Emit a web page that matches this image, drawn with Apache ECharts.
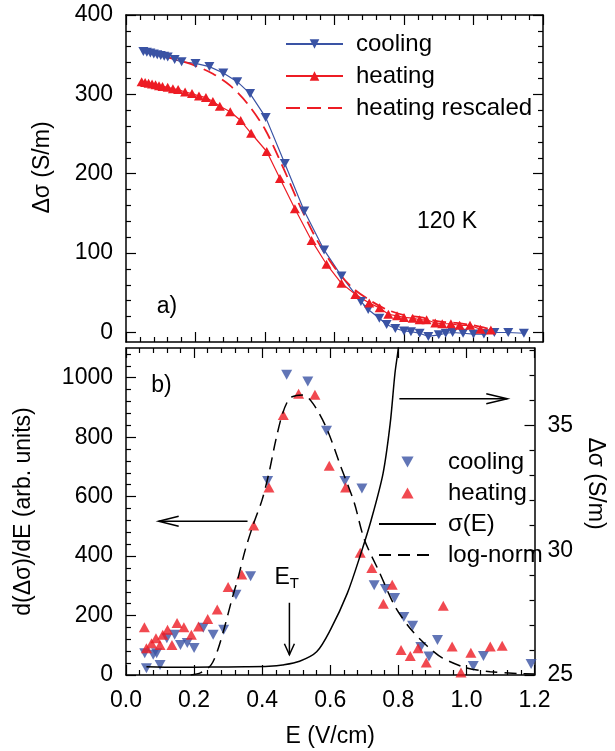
<!DOCTYPE html>
<html>
<head>
<meta charset="utf-8">
<script src="https://cdn.jsdelivr.net/npm/echarts@6/dist/echarts.min.js"></script>
<style>
  html, body { margin: 0; padding: 0; background: #fff; }
  #chart { width: 615px; height: 751px; }
</style>
</head>
<body>
<div id="chart"></div>
<script>
// panel a) : delta sigma vs E
const coolX = [0.05, 0.06, 0.07, 0.08, 0.09, 0.10, 0.11, 0.12, 0.14, 0.16, 0.20, 0.24, 0.28, 0.32, 0.357, 0.402, 0.457, 0.513, 0.57, 0.62, 0.676, 0.697, 0.729, 0.75, 0.775, 0.80, 0.82, 0.845, 0.87, 0.90, 0.92, 0.94, 0.97, 1.00, 1.03, 1.06, 1.10, 1.145]
const coolY = [354, 353, 352, 351, 350, 349, 348, 347, 344, 341, 339, 335, 327, 316, 301, 271, 213, 153, 104, 71, 39, 29, 18, 10, 5, 2, 1, -1, -5, -3, -1, 0, -1, -2, -2, 0, 0, -1]
const heatX = [0.045, 0.055, 0.065, 0.075, 0.085, 0.095, 0.105, 0.12, 0.135, 0.15, 0.17, 0.19, 0.21, 0.23, 0.25, 0.27, 0.30, 0.33, 0.36, 0.405, 0.443, 0.486, 0.534, 0.577, 0.62, 0.66, 0.70, 0.73, 0.755, 0.78, 0.80, 0.825, 0.845, 0.865, 0.89, 0.91, 0.935, 0.96, 0.99, 1.02, 1.05]
const heatY = [316, 315, 314, 313, 312, 311, 310, 309, 307, 306, 303, 301, 298, 296, 291, 285, 278, 267, 251, 228, 194, 156, 116, 86, 62, 48, 37, 31, 23, 21, 19, 18, 16, 16, 12, 11, 11, 9, 9, 4, 3]
const rescX = [0.05, 0.10, 0.15, 0.20, 0.25, 0.30, 0.35, 0.40, 0.45, 0.50, 0.55, 0.60, 0.65, 0.70, 0.75, 0.80, 0.85, 0.90, 0.95, 1.00, 1.05]
const rescY = [354, 349, 343, 336, 326, 311, 288, 256, 210, 160, 116, 82, 57, 41, 29, 22, 19, 14, 12, 9, 4]

// panel b) : derivative, sigma(E), log-normal fit
const bCoolX = [0.055, 0.06, 0.08, 0.09, 0.10, 0.12, 0.143, 0.16, 0.18, 0.20, 0.227, 0.256, 0.287, 0.323, 0.366, 0.416, 0.472, 0.534, 0.589, 0.643, 0.693, 0.729, 0.762, 0.789, 0.816, 0.842, 0.866, 0.89, 0.915, 1.02, 1.05, 1.19]
const bCoolY = [73, 23, 68, 73, 34, 124, 135, 101, 108, 91, 159, 135, 152, 270, 332, 653, 1010, 987, 822, 653, 627, 302, 289, 259, 195, 166, 94, 62, 118, 30, 64, 37]
const bHeatX = [0.054, 0.06, 0.075, 0.088, 0.10, 0.108, 0.122, 0.135, 0.15, 0.17, 0.192, 0.213, 0.24, 0.268, 0.30, 0.34, 0.375, 0.42, 0.462, 0.507, 0.555, 0.597, 0.645, 0.688, 0.722, 0.756, 0.782, 0.808, 0.835, 0.858, 0.882, 0.932, 0.958, 0.984, 1.013, 1.07, 1.105]
const bHeatY = [161, 90, 107, 124, 101, 135, 152, 101, 175, 161, 135, 163, 188, 220, 296, 338, 503, 631, 875, 946, 943, 704, 631, 411, 360, 240, 304, 84, 64, 90, 42, 233, 96, 8, 75, 96, 98]
const lnX = [0.19, 0.22, 0.25, 0.27, 0.29, 0.31, 0.33, 0.35, 0.375, 0.40, 0.42, 0.44, 0.46, 0.48, 0.50, 0.52, 0.55, 0.59, 0.63, 0.67, 0.70, 0.745, 0.79, 0.838, 0.886, 0.93, 1.00, 1.07, 1.15, 1.20]
const lnY = [0, 8, 34, 86, 163, 250, 330, 420, 510, 590, 680, 790, 880, 930, 940, 942, 912, 828, 704, 581, 456, 344, 231, 152, 96, 57, 24, 11, 5, 3]
const sigX = [0.06, 0.15, 0.25, 0.35, 0.42, 0.46, 0.51, 0.56, 0.60, 0.65, 0.69, 0.72, 0.755, 0.776, 0.79, 0.80, 0.81]
const sigY = [25.33, 25.31, 25.32, 25.33, 25.35, 25.4, 25.55, 25.93, 26.8, 28.27, 29.87, 31.2, 33.07, 35.07, 37.08, 38.1, 39.5]

// tick labels
const aTicks = [0, 100, 200, 300, 400]
const bTicks = [0, 200, 400, 600, 800, 1000]
const rTicks = [25, 30, 35]

const FONT = '"Liberation Sans", Arial, sans-serif'
const BLUE = '#3a53a4'
const RED = '#ed1c24'
const DOWN = 'path://M0,0 L10,0 L5,9 Z'
const UP = 'path://M5,0 L10,9 L0,9 Z'

const pts = (xs, ys) => xs.map((x, i) => [x, ys[i]])
// minor tick positions between majors
function minors (from, to, step, majors) {
  const out = []
  for (let v = from; v <= to + 1e-9; v += step) {
    const r = Math.round(v * 1000) / 1000
    if (!majors.includes(r)) out.push(r)
  }
  return out
}

const lineBlack = {color: '#000', width: 1.5}
const tickLine = {color: '#000', width: 1.2}

function xAx (grid, pos, labels, name) {
  return {
    type: 'value', gridIndex: grid, position: pos, min: 0, max: 1.2, interval: 0.2,
    name: name || '', nameLocation: 'middle', nameGap: 50,
    nameTextStyle: {fontSize: 23, color: '#000', fontFamily: FONT},
    axisLine: {show: true, onZero: false, lineStyle: lineBlack},
    axisTick: {show: true, inside: true, length: 10, lineStyle: tickLine},
    minorTick: {show: true, splitNumber: 5, length: 5, lineStyle: tickLine},
    splitLine: {show: false},
    axisLabel: {show: labels, margin: 14, fontSize: 23, color: '#000', fontFamily: FONT,
      formatter: v => v.toFixed(1)}
  }
}

function yMajor (grid, pos, min, max, ticks, labels, extra) {
  return Object.assign({
    type: 'value', gridIndex: grid, position: pos, min, max,
    axisLine: {show: true, onZero: false, lineStyle: lineBlack},
    axisTick: {show: true, inside: true, length: 10, customValues: ticks, lineStyle: tickLine},
    splitLine: {show: false},
    axisLabel: {show: labels, customValues: ticks, margin: 13, fontSize: 23, color: '#000', fontFamily: FONT,
      formatter: v => String(v)}
  }, extra || {})
}

function yMinor (grid, pos, min, max, ticks) {
  return {
    type: 'value', gridIndex: grid, position: pos, min, max,
    axisLine: {show: false, onZero: false},
    axisTick: {show: true, inside: true, length: 5, customValues: ticks, lineStyle: tickLine},
    splitLine: {show: false},
    axisLabel: {show: false}
  }
}

const aMinor = minors(0, 400, 20, aTicks)
const bMinor = minors(0, 1080, 40, bTicks)
const rMinor = minors(25, 38, 1, rTicks)
const nameStyle = {fontSize: 23, color: '#000', fontFamily: FONT}
const noDot = {opacity: 0}

const option = {
  backgroundColor: '#fff',
  animation: false,
  grid: [
    {left: 126, top: 15, width: 417, height: 327},
    {left: 126, top: 348, width: 417, height: 327}
  ],
  xAxis: [
    xAx(0, 'bottom', false),
    xAx(0, 'top', false),
    xAx(1, 'bottom', true, 'E (V/cm)'),
    xAx(1, 'top', false)
  ],
  yAxis: [
    yMajor(0, 'left', -12, 400, aTicks, true, {
      name: 'Δσ (S/m)', nameLocation: 'middle', nameGap: 72,
      nameTextStyle: Object.assign({padding: [0, 0, 0, 22]}, nameStyle)
    }),
    yMinor(0, 'left', -12, 400, aMinor),
    yMajor(0, 'right', -12, 400, aTicks, false),
    yMinor(0, 'right', -12, 400, aMinor),
    yMajor(1, 'left', 0, 1100, bTicks, true, {
      name: 'd(Δσ)/dE (arb. units)', nameLocation: 'middle', nameGap: 91,
      nameTextStyle: nameStyle
    }),
    yMinor(1, 'left', 0, 1100, bMinor),
    yMajor(1, 'right', 25, 38.1, rTicks, true, {
      name: 'Δσ (S/m)', nameLocation: 'middle', nameGap: 29, nameRotate: -90,
      nameTextStyle: Object.assign({padding: [0, 56, 0, 0]}, nameStyle)
    }),
    yMinor(1, 'right', 25, 38.1, rMinor)
  ],
  legend: [
    {
      data: ['cooling', 'heating', {name: 'heating rescaled', itemStyle: noDot}],
      orient: 'vertical', left: 285, top: 32, padding: 0, itemWidth: 57, itemHeight: 12, itemGap: 8,
      textStyle: {fontSize: 24, color: '#000', fontFamily: FONT, padding: [0, 0, 0, 8]}
    },
    {
      data: ['cooling (b)', 'heating (b)', {name: 'σ(E)', itemStyle: noDot}, {name: 'log-norm', itemStyle: noDot}],
      orient: 'vertical', left: 378, top: 450, padding: 0, itemWidth: 57, itemHeight: 11, itemGap: 7,
      formatter: name => name.replace(' (b)', ''),
      textStyle: {fontSize: 24, color: '#000', fontFamily: FONT, padding: [0, 0, 0, 7]}
    }
  ],
  series: [
    {
      name: 'cooling', type: 'line', xAxisIndex: 0, yAxisIndex: 0, data: pts(coolX, coolY),
      symbol: DOWN, symbolSize: [10, 9], color: BLUE, lineStyle: {color: BLUE, width: 1.2}
    },
    {
      name: 'heating', type: 'line', xAxisIndex: 0, yAxisIndex: 0, data: pts(heatX, heatY),
      symbol: UP, symbolSize: [10, 9], color: RED, lineStyle: {color: RED, width: 1.2}
    },
    {
      name: 'heating rescaled', type: 'line', xAxisIndex: 0, yAxisIndex: 0, data: pts(rescX, rescY),
      symbol: 'none', smooth: 0.3, color: RED, lineStyle: {color: RED, width: 1.8, type: [14, 7]}
    },
    {
      name: 'cooling (b)', type: 'scatter', xAxisIndex: 2, yAxisIndex: 4, data: pts(bCoolX, bCoolY),
      symbol: DOWN, symbolSize: [11, 10], color: BLUE
    },
    {
      name: 'heating (b)', type: 'scatter', xAxisIndex: 2, yAxisIndex: 4, data: pts(bHeatX, bHeatY),
      symbol: UP, symbolSize: [11, 10], color: RED
    },
    {
      name: 'σ(E)', type: 'line', xAxisIndex: 2, yAxisIndex: 6, data: pts(sigX, sigY),
      symbol: 'none', smooth: 0.3, color: '#000', lineStyle: {color: '#000', width: 1.5}
    },
    {
      name: 'log-norm', type: 'line', xAxisIndex: 2, yAxisIndex: 4, data: pts(lnX, lnY),
      symbol: 'none', smooth: 0.3, color: '#000', lineStyle: {color: '#000', width: 1.5, type: [12, 7]}
    }
  ]
}

const chart = echarts.init(document.getElementById('chart'))
chart.setOption(option)

// annotations placed in data space
const pa = (x, y) => chart.convertToPixel({xAxisIndex: 0, yAxisIndex: 0}, [x, y])
const pb = (x, y) => chart.convertToPixel({xAxisIndex: 2, yAxisIndex: 4}, [x, y])

function arrow (from, to, headLen, halfW) {
  const dx = to[0] - from[0]
  const dy = to[1] - from[1]
  const len = Math.sqrt(dx * dx + dy * dy)
  const ux = dx / len
  const uy = dy / len
  const bx = to[0] - ux * headLen
  const by = to[1] - uy * headLen
  return [
    {type: 'polyline', shape: {points: [from, to]}, style: {stroke: '#000', lineWidth: 1.5, fill: null}},
    {type: 'polyline', shape: {points: [[bx - uy * halfW, by + ux * halfW], to, [bx + uy * halfW, by - ux * halfW]]},
      style: {stroke: '#000', lineWidth: 1.5, fill: null}}
  ]
}

function label (p, text, size) {
  return {type: 'text', x: p[0], y: p[1],
    style: {text, fontSize: size || 23, fill: '#000', fontFamily: FONT, align: 'center', verticalAlign: 'middle'}}
}

const graphics = [].concat(
  label(pa(0.118, 33), 'a)'),
  label(pa(0.924, 140), '120 K'),
  label(pb(0.104, 973), 'b)'),
  arrow(pb(0.357, 517), pb(0.096, 517), 20, 5),
  arrow(pb(0.803, 929), pb(1.12, 929), 21, 5),
  arrow(pb(0.48, 243), pb(0.48, 68), 11, 5),
  {type: 'text', x: pb(0.472, 328)[0], y: pb(0.472, 328)[1],
    style: {text: '{e|E}{t|T}', fill: '#000', fontFamily: FONT, align: 'center', verticalAlign: 'middle',
      rich: {e: {fontSize: 23, fontFamily: FONT}, t: {fontSize: 15, fontFamily: FONT, padding: [12, 0, 0, 0]}}}}
)
chart.setOption({graphic: graphics})
</script>
</body>
</html>
